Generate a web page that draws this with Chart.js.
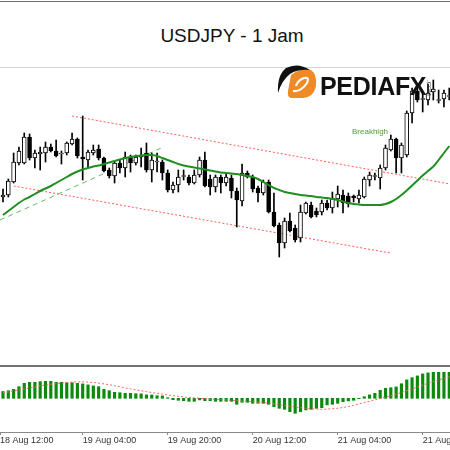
<!DOCTYPE html>
<html>
<head>
<meta charset="utf-8">
<script src="https://cdn.jsdelivr.net/npm/chart.js@4.4.1/dist/chart.umd.min.js"></script>
<style>
  body { margin: 0; background: #fff; }
  #wrap { position: relative; width: 450px; height: 450px; overflow: hidden; background: #fff; }
  #topLine { position: absolute; left: 0; top: 1px; width: 450px; height: 1px; background: #6e6e6e; }
  #title { position: absolute; left: 14px; top: 26px; width: 436px; text-align: center;
           font: 19px/20px 'Liberation Sans', Arial, sans-serif; color: #111; white-space: nowrap; }
  #titleRule { position: absolute; left: 0; top: 67px; width: 450px; height: 1px; background: #d4d4d4; }
  #priceChart { position: absolute; left: 0; top: 67px; }
  #panelLine { position: absolute; left: 0; top: 365px; width: 450px; height: 2px; background: #737373; }
  #macdChart { position: absolute; left: 0; top: 367px; }
  #logoIcon { position: absolute; left: 274px; top: 62px; }
  #logoText { position: absolute; left: 320px; top: 74px; font: bold 25px/25px 'Liberation Sans', Arial, sans-serif;
              color: #111; letter-spacing: -0.3px; white-space: nowrap; }
  #logoCom { position: absolute; left: 425px; top: 80px; font: 6px/7px 'Liberation Sans', Arial, sans-serif;
             color: #333; writing-mode: vertical-rl; }
  #breakNote { position: absolute; left: 352px; top: 128px; font: 8px/8px 'Liberation Sans', Arial, sans-serif;
               color: #4f9a3a; white-space: nowrap; }
</style>
</head>
<body>
<div id="wrap">
  <div id="topLine"></div>
  <div id="title">USDJPY - 1 Jam</div>
  <div id="titleRule"></div>
  <canvas id="priceChart" width="450" height="298"></canvas>
  <div id="panelLine"></div>
  <canvas id="macdChart" width="450" height="83"></canvas>
  <svg id="logoIcon" width="44" height="42" viewBox="0 0 44 42">
    <path d="M17 13 Q27 5 37 8 Q43 12 42 24 Q40 35 29 36 L17 36 Q13 35 14 29 Z" fill="#f08a24"/>
    <path d="M19 29 Q27 30 33 21 Q36 15 30 16 Q24 18 22 24" fill="none" stroke="#fff" stroke-width="2.2"/>
    <path d="M36 8 Q24 0 12 6 Q3 13 4 31 Q8 18 16 12 Q24 7 36 8 Z" fill="#111"/>
  </svg>
  <div id="logoText">PEDIAFX</div>
  <div id="logoCom">.COM</div>
  <div id="breakNote">Breakhigh</div>
</div>

<script>
// time axis: tick positions (bar index) and their labels
const tickIndex = [-0.56, 15, 31, 47, 63, 79];
const tickLabels = ['18 Aug 12:00', '19 Aug 04:00', '19 Aug 20:00', '20 Aug 12:00', '21 Aug 04:00', '21 Aug 20:00'];

// hourly candles from 18 Aug 13:00
const opens = [
  106.03, 106.05, 106.18, 106.37, 106.37, 106.63, 106.42, 106.46, 106.47, 106.53,
  106.49, 106.46, 106.47, 106.56, 106.61, 106.43, 106.40, 106.47, 106.51, 106.42,
  106.30, 106.24, 106.37, 106.32, 106.43, 106.37, 106.43, 106.47, 106.30, 106.38,
  106.38, 106.27, 106.10, 106.15, 106.235, 106.23, 106.17, 106.25, 106.40, 106.21,
  106.13, 106.23, 106.17, 106.22, 106.09, 105.99, 106.27, 106.23, 106.12, 106.07,
  106.18, 105.88, 105.75, 105.57, 105.79, 105.72, 105.62, 105.87, 105.95, 105.89,
  105.88, 105.97, 105.92, 106.01, 106.05, 106.04, 106.04, 106.01, 106.03, 106.20,
  106.235, 106.22, 106.32, 106.50, 106.61, 106.42, 106.45, 106.87, 107.09, 107.005,
  107.00, 107.08, 106.995, 107.01, 107.035
];
const highs = [
  106.11, 106.21, 106.47, 106.53, 106.67, 106.66, 106.50, 106.53, 106.58, 106.56,
  106.60, 106.49, 106.58, 106.67, 106.62, 106.84, 106.50, 106.55, 106.55, 106.43,
  106.32, 106.38, 106.40, 106.48, 106.45, 106.45, 106.52, 106.57, 106.47, 106.47,
  106.40, 106.30, 106.18, 106.30, 106.30, 106.25, 106.30, 106.43, 106.48, 106.25,
  106.25, 106.25, 106.27, 106.25, 106.12, 106.36, 106.29, 106.25, 106.14, 106.20,
  106.20, 106.07, 105.77, 105.82, 105.87, 105.75, 105.95, 105.98, 105.98, 105.92,
  106.00, 106.00, 106.08, 106.14, 106.10, 106.07, 106.05, 106.10, 106.23, 106.28,
  106.27, 106.35, 106.55, 106.65, 106.62, 106.57, 106.89, 107.12, 107.13, 107.08,
  107.16, 107.20, 107.10, 107.10, 107.12
];
const lows = [
  105.98, 106.03, 106.17, 106.35, 106.36, 106.40, 106.32, 106.30, 106.38, 106.48,
  106.43, 106.36, 106.45, 106.55, 106.42, 106.20, 106.32, 106.45, 106.40, 106.28,
  106.22, 106.17, 106.27, 106.23, 106.28, 106.35, 106.33, 106.28, 106.18, 106.28,
  106.20, 106.08, 106.07, 106.08, 106.20, 106.15, 106.16, 106.23, 106.13, 106.05,
  106.08, 106.07, 106.14, 106.02, 105.73, 105.94, 106.22, 106.08, 105.98, 106.05,
  105.87, 105.73, 105.43, 105.52, 105.68, 105.58, 105.58, 105.86, 105.82, 105.83,
  105.85, 105.90, 105.87, 105.93, 105.87, 105.93, 105.98, 105.97, 106.02, 106.14,
  106.20, 106.11, 106.30, 106.49, 106.27, 106.27, 106.43, 106.77, 106.98, 106.88,
  106.95, 107.00, 106.97, 106.93, 107.00
];
const closes = [
  106.05, 106.19, 106.38, 106.49, 106.63, 106.42, 106.47, 106.48, 106.53, 106.49,
  106.44, 106.47, 106.57, 106.61, 106.44, 106.41, 106.48, 106.50, 106.42, 106.29,
  106.24, 106.37, 106.32, 106.43, 106.37, 106.43, 106.45, 106.30, 106.40, 106.39,
  106.27, 106.10, 106.15, 106.23, 106.245, 106.17, 106.25, 106.40, 106.14, 106.13,
  106.23, 106.17, 106.23, 106.09, 106.00, 106.27, 106.23, 106.11, 106.07, 106.18,
  105.88, 105.74, 105.57, 105.79, 105.69, 105.60, 105.88, 105.97, 105.83, 105.85,
  105.97, 105.92, 106.02, 106.06, 105.97, 105.96, 106.02, 106.05, 106.21, 106.25,
  106.245, 106.32, 106.52, 106.61, 106.42, 106.55, 106.87, 107.09, 107.00, 107.015,
  107.07, 107.11, 107.005, 107.07, 107.045
];

// moving average (green line)
const maLine = [
  105.85, 105.89, 105.93, 105.97, 106.005, 106.03, 106.06, 106.09, 106.115, 106.14,
  106.17, 106.20, 106.23, 106.26, 106.285, 106.305, 106.32, 106.335, 106.345, 106.36,
  106.375, 106.39, 106.405, 106.42, 106.43, 106.44, 106.445, 106.45, 106.45, 106.44,
  106.42, 106.40, 106.38, 106.36, 106.345, 106.335, 106.325, 106.315, 106.305, 106.295,
  106.285, 106.275, 106.27, 106.265, 106.26, 106.25, 106.24, 106.23, 106.21, 106.18,
  106.15, 106.12, 106.10, 106.08, 106.07, 106.06, 106.05, 106.045, 106.04, 106.03,
  106.025, 106.02, 106.01, 106.00, 105.985, 105.97, 105.96, 105.955, 105.95, 105.95,
  105.95, 105.95, 105.96, 105.98, 106.01, 106.05, 106.095, 106.145, 106.195, 106.245,
  106.29, 106.335, 106.40, 106.47, 106.54
];

// drawn lines: [bar index, price]
const upperChannel = [[13, 106.84], [84.14, 106.16]];
const lowerChannel = [[2, 106.14], [72.9, 105.47]];
const trendLine = [[-0.56, 105.80], [30.2, 106.53]];

// MACD histogram and signal
const macdHist = [
  0.034, 0.038, 0.045, 0.058, 0.075, 0.080, 0.080, 0.083, 0.085, 0.085,
  0.080, 0.080, 0.078, 0.078, 0.075, 0.072, 0.067, 0.062, 0.058, 0.045,
  0.038, 0.030, 0.028, 0.025, 0.025, 0.023, 0.022, 0.017, 0.017, 0.013,
  0.012, 0.003, -0.007, -0.010, -0.012, -0.015, -0.015, -0.008, -0.012, -0.012,
  -0.015, -0.015, -0.015, -0.015, -0.030, -0.020, -0.020, -0.025, -0.025, -0.025,
  -0.030, -0.042, -0.050, -0.055, -0.067, -0.075, -0.067, -0.058, -0.055, -0.050,
  -0.047, -0.033, -0.030, -0.025, -0.017, -0.013, -0.010, -0.002, 0.008, 0.017,
  0.025, 0.040, 0.050, 0.053, 0.057, 0.073, 0.092, 0.103, 0.112, 0.122,
  0.127, 0.130, 0.130, 0.130, 0.130
];
const macdSignal = [
  0.028, 0.032, 0.037, 0.042, 0.047, 0.052, 0.057, 0.062, 0.066, 0.070,
  0.073, 0.076, 0.079, 0.081, 0.082, 0.082, 0.081, 0.079, 0.076, 0.072,
  0.068, 0.063, 0.058, 0.052, 0.047, 0.042, 0.038, 0.033, 0.029, 0.025,
  0.021, 0.017, 0.013, 0.010, 0.007, 0.004, 0.002, 0.000, -0.002, -0.004,
  -0.006, -0.007, -0.008, -0.010, -0.012, -0.014, -0.016, -0.017, -0.019, -0.021,
  -0.024, -0.028, -0.032, -0.036, -0.040, -0.044, -0.047, -0.050, -0.053, -0.054,
  -0.055, -0.054, -0.052, -0.050, -0.046, -0.041, -0.035, -0.028, -0.021, -0.015,
  -0.008, -0.001, 0.006, 0.013, 0.021, 0.029, 0.038, 0.047, 0.056, 0.066,
  0.075, 0.084, 0.092, 0.100, 0.107
];

// visible bar range
const xMin = -0.565;
const xMax = 84.14;

const idx = opens.map((o, i) => i);
const bodyColors = idx.map(i => closes[i] >= opens[i] ? '#ffffff' : '#000000');
const toPoints = line => line.map(p => ({ x: p[0], y: p[1] }));

//price panel
new Chart(document.getElementById('priceChart'), {
    type: 'bar',
    data: {
        datasets: [
            { type: 'line', data: toPoints(upperChannel), borderColor: '#ff5c5c', borderWidth: 1,
              borderDash: [2, 2], pointRadius: 0, order: 10 },
            { type: 'line', data: toPoints(lowerChannel), borderColor: '#ff5c5c', borderWidth: 1,
              borderDash: [2, 2], pointRadius: 0, order: 10 },
            { type: 'line', data: toPoints(trendLine), borderColor: '#66bb66', borderWidth: 1,
              borderDash: [5, 4], pointRadius: 0, order: 9 },
            { data: idx.map(i => ({ x: i, y: [lows[i], highs[i]] })), backgroundColor: '#000',
              barThickness: 1, grouped: false, order: 4 },
            { data: idx.map(i => ({ x: i, y: [opens[i], closes[i]] })), backgroundColor: bodyColors,
              borderColor: '#000', borderWidth: 1, borderSkipped: false, barThickness: 4,
              grouped: false, order: 3 },
            { type: 'line', data: maLine.map((v, i) => ({ x: i, y: v })), borderColor: '#1f8f1f',
              borderWidth: 2, pointRadius: 0, tension: 0.3, order: 0 }
        ]
    },
    options: {
        responsive: false,
        animation: false,
        events: [],
        layout: { padding: 0, autoPadding: false },
        plugins: { legend: { display: false }, tooltip: { enabled: false } },
        scales: {
            x: { type: 'linear', min: xMin, max: xMax, offset: false, display: false },
            y: { min: 104.35, max: 107.33, beginAtZero: false, display: false }
        }
    }
});

//MACD panel with the time axis
new Chart(document.getElementById('macdChart'), {
    type: 'bar',
    data: {
        datasets: [
            { type: 'line', data: macdSignal.map((v, i) => ({ x: i, y: v })), borderColor: '#ff6464',
              borderWidth: 1, borderDash: [2, 2], pointRadius: 0, order: 0 },
            { data: macdHist.map((v, i) => ({ x: i, y: v })), backgroundColor: '#0b8a0b',
              barThickness: 2.5, order: 1 }
        ]
    },
    options: {
        responsive: false,
        animation: false,
        events: [],
        layout: { padding: 0, autoPadding: false },
        plugins: { legend: { display: false }, tooltip: { enabled: false } },
        scales: {
            x: {
                type: 'linear', min: xMin, max: xMax, offset: false, position: 'bottom',
                afterBuildTicks: s => { s.ticks = tickIndex.map(v => ({ value: v })); },
                afterFit: s => { s.paddingLeft = 0; s.paddingRight = 0; s.height = 18; },
                grid: { drawOnChartArea: false, offset: false, tickLength: 3, color: '#8a8a8a' },
                border: { color: '#8a8a8a' },
                ticks: {
                    align: 'start', autoSkip: false, maxRotation: 0, padding: 0, color: '#333',
                    font: { family: 'Liberation Sans', size: 9 },
                    callback: (v, i) => tickLabels[i]
                }
            },
            y: { min: -0.1685, max: 0.1565, display: false }
        }
    }
});
</script>
</body>
</html>
